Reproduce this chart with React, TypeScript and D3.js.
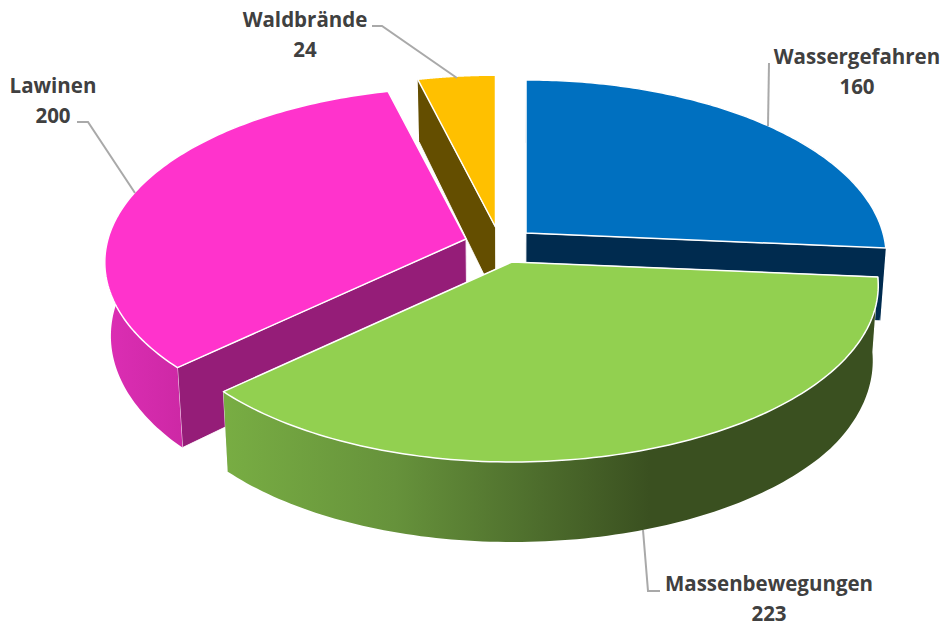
import { useEffect, useRef } from 'react';
import * as d3 from 'd3';

const categories = ['Wassergefahren', 'Massenbewegungen', 'Lawinen', 'Waldbrände'];
const values = [160, 223, 200, 24];
const topColors = ['#0070c0', '#92d050', '#ff33cc', '#ffc000'];
const wallColors = ['#002b4f', '#3c5221', '#951d78', '#644e00'];
const rimStops = [
  [['0%', '#002b4f'], ['100%', '#002b4f']],
  [['0%', '#78ad43'], ['40%', '#66923b'], ['70%', '#50712e'], ['100%', '#3a5020']],
  [['0%', '#dc2eb4'], ['100%', '#cd28a5']],
  [['0%', '#644e00'], ['100%', '#644e00']],
];

// exploded slice geometry, one entry per slice
const apexX = [526, 512, 466, 495.5];
const apexY = [233, 262, 239, 227];
const radiusRight = [357, 363, 358, 357];
const radiusLeft = [357, 358, 358, 357];
const radiusY = [173.4, 173.4, 172, 172];
const rimRange = [[525, 885], [225, 650], [105, 183], [418, 496]];
const drawOrder = [3, 0, 2, 1];

const labelLines = [
  { x: 857, y: 64, label: 0 },
  { x: 769, y: 591, label: 1 },
  { x: 53, y: 93, label: 2 },
  { x: 305, y: 27, label: 3 },
];
const leaders: [number, number][][] = [
  [[769, 63], [768, 126]],
  [[643, 530], [648, 591], [660, 591]],
  [[77, 122], [88, 122], [135, 193]],
  [[372, 26], [382, 26], [457, 78]],
];

const PERSPECTIVE = 0.133;

export default function App() {
  const svgRef = useRef<SVGSVGElement>(null);

  useEffect(() => {
    const svg = d3.select(svgRef.current);
    svg.selectAll('*').remove();

    const pie = d3.pie<number>().sort(null).startAngle(0).endAngle(2 * Math.PI);
    const arcs = pie(values);
    const line = d3.line();
    const defs = svg.append('defs');

    // Top face projection, the near side of the pie is drawn larger
    const project = (i: number, angle: number): [number, number] => {
      const u = Math.sin(angle);
      const v = -Math.cos(angle);
      const w = 1 / (1 - PERSPECTIVE * v);
      const rx = u > 0 ? radiusRight[i] : radiusLeft[i];
      return [apexX[i] + rx * u * w, apexY[i] + radiusY[i] * v * w];
    };

    // Same point at the bottom of the pie
    const drop = ([x, y]: [number, number]): [number, number] => [
      512 + (x - 512) * 0.985,
      y + Math.min(80, 58 + 0.06 * y),
    ];

    drawOrder.forEach(i => {
      const d = arcs[i];
      const g = svg.append('g').attr('class', `slice-${i}`);
      const apex: [number, number] = [apexX[i], apexY[i]];
      const arcPoints = d3.range(0, 121).map(k =>
        project(i, d.startAngle + ((d.endAngle - d.startAngle) * k) / 120)
      );

      const gradient = defs
        .append('linearGradient')
        .attr('id', `rim-${i}`)
        .attr('gradientUnits', 'userSpaceOnUse')
        .attr('x1', rimRange[i][0])
        .attr('x2', rimRange[i][1])
        .attr('y1', 0)
        .attr('y2', 0);
      rimStops[i].forEach(([offset, color]) => {
        gradient.append('stop').attr('offset', offset).attr('stop-color', color);
      });

      // Cut walls, the one further back first
      [arcPoints[0], arcPoints[120]]
        .sort((a, b) => a[1] - b[1])
        .forEach(corner => {
          g.append('path')
            .attr('d', line([apex, corner, drop(corner), drop(apex)]) + 'Z')
            .attr('fill', wallColors[i])
            .attr('stroke', '#ffffff')
            .attr('stroke-opacity', 0.85)
            .attr('stroke-width', 1);
        });

      // Outer wall as strips, so the silhouette tangents get filled too
      const strips = arcPoints.slice(0, -1).map((p, k) => {
        const next = arcPoints[k + 1];
        return line([p, next, drop(next), drop(p)]) + 'Z';
      });
      g.append('path')
        .attr('d', strips.join(''))
        .attr('fill', `url(#rim-${i})`);

      // Top face
      g.append('path')
        .attr('d', line([apex, ...arcPoints]) + 'Z')
        .attr('fill', topColors[i])
        .attr('stroke', '#ffffff')
        .attr('stroke-width', 1.5)
        .attr('stroke-linejoin', 'round');
    });

    // Leader lines
    leaders.forEach(points => {
      svg.append('path')
        .attr('d', line(points))
        .attr('fill', 'none')
        .attr('stroke', '#a9a9a9')
        .attr('stroke-width', 2);
    });

    // Labels
    labelLines.forEach(item => {
      const text = svg.append('text')
        .attr('text-anchor', 'middle')
        .attr('fill', '#404040')
        .style('font-family', '"Open Sans", sans-serif')
        .style('font-weight', 700)
        .style('font-size', '20.5px');
      text.append('tspan').attr('x', item.x).attr('y', item.y).text(categories[item.label]);
      text.append('tspan').attr('x', item.x).attr('y', item.y + 29.5).text(values[item.label]);
    });
  }, []);

  return (
    <svg
      ref={svgRef}
      width={944}
      height={624}
      style={{ position: 'absolute', left: 0, top: 0, background: '#ffffff' }}
    />
  );
}
